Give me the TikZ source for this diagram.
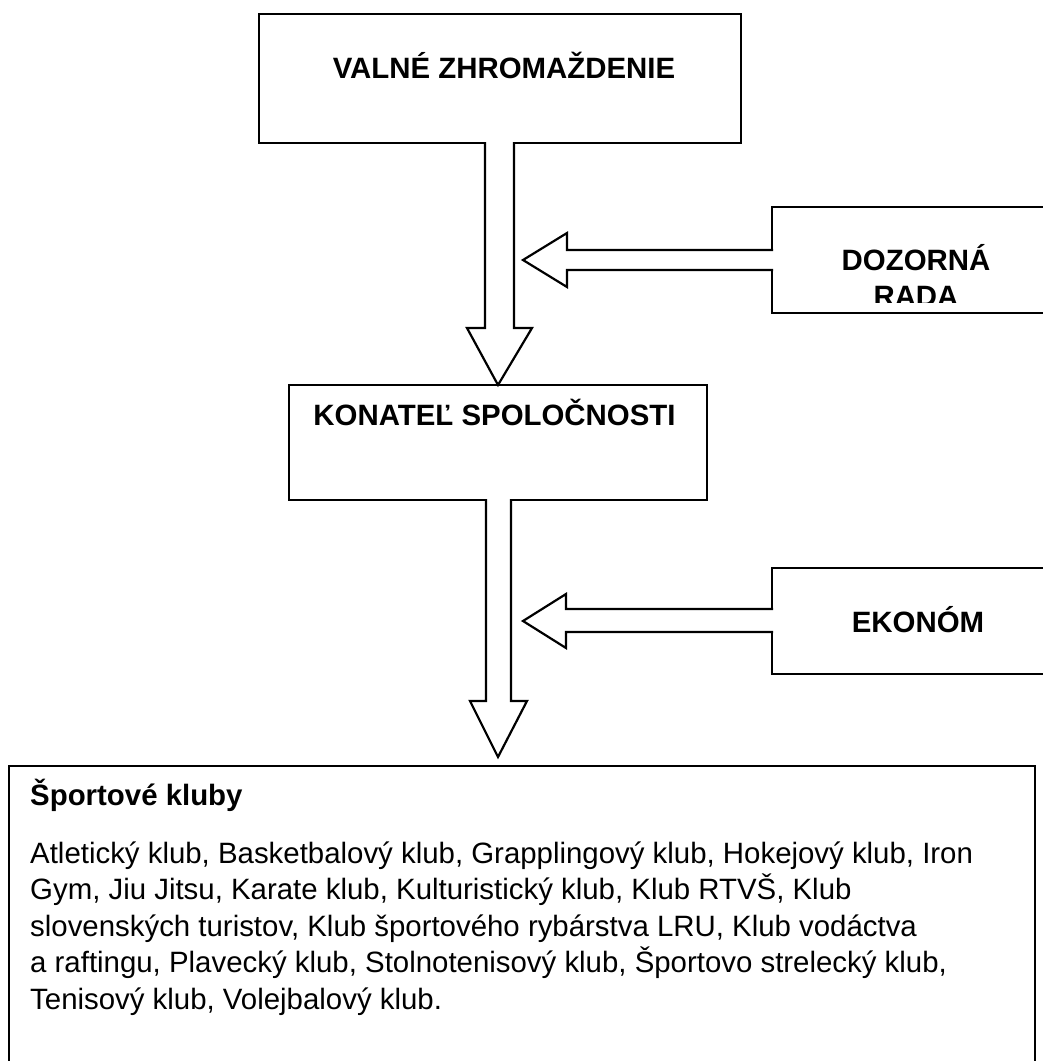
\documentclass[tikz,border=0pt]{standalone}
\usepackage{fontspec}
\setmainfont{Liberation Sans}
\begin{document}
\begin{tikzpicture}[x=1pt,y=-1pt,
  frame/.style={draw=black, line width=2.2pt, rectangle, inner sep=0pt, outer sep=0pt},
  lbl/.style={font=\fontsize{29.4}{36}\bfseries\selectfont, inner sep=0pt, anchor=base},
  head/.style={font=\fontsize{29.4}{36}\bfseries\selectfont, inner sep=0pt, anchor=base west},
  body/.style={font=\fontsize{29.4}{36}\selectfont, inner sep=0pt, anchor=base west},
  hollow/.style={draw=black, fill=white, line width=2.2pt, line join=miter}]
\useasboundingbox (0,0) rectangle (1043,1061);
\fill[white] (0,0) rectangle (1043,1061);

% boxes
\node[frame, minimum width=482pt, minimum height=129pt] (vz) at (500,78.5) {};
\node[frame, minimum width=418pt, minimum height=115pt] (kon) at (498,442.5) {};
\node[frame, minimum width=328pt, minimum height=106pt] (dr) at (936,260) {};
\node[frame, minimum width=328pt, minimum height=106pt] (ek) at (936,621) {};
\node[frame, minimum width=1026pt, minimum height=334pt] (kl) at (522,933) {};

% labels
\node[lbl] (vzt) at (504,78) {VALNÉ ZHROMAŽDENIE};
\node[lbl] (kont) at (494.5,425) {KONATEĽ SPOLOČNOSTI};
\node[lbl] (drt) at (916,270) {DOZORNÁ};
\begin{scope}
  \clip (774,209) rectangle (1043,302);
  \node[lbl] (drt2) at (916,306) {RADA};
\end{scope}
\node[lbl] (ekt) at (918,632) {EKONÓM};

\node[head] (klt) at (30,805) {Športové kluby};
\node[body] (b1) at (30,863) {Atletický klub, Basketbalový klub, Grapplingový klub, Hokejový klub, Iron};
\node[body] (b2) at (30,899.5) {Gym, Jiu Jitsu, Karate klub, Kulturistický klub, Klub RTVŠ, Klub};
\node[body] (b3) at (30,936) {slovenských turistov, Klub športového rybárstva LRU, Klub vodáctva};
\node[body] (b4) at (30,972.5) {a raftingu, Plavecký klub, Stolnotenisový klub, Športovo strelecký klub,};
\node[body] (b5) at (30,1009) {Tenisový klub, Volejbalový klub.};

% block arrows
\coordinate (t1) at (kon.north);
\draw[hollow] (485,142) -- (485,328) -- (467,328) -- (t1) -- (532,328) -- (514,328) -- (514,142);
\coordinate (t2) at (498,757);
\draw[hollow] (486,499) -- (486,701) -- (470,701) -- (t2) -- (527,701) -- (511,701) -- (511,499);
\coordinate (t3) at (523,260);
\draw[hollow] (773,250) -- (567,250) -- (567,233) -- (t3) -- (567,287) -- (567,270) -- (773,270);
\coordinate (t4) at (523,621);
\draw[hollow] (773,609) -- (566,609) -- (566,594) -- (t4) -- (566,648) -- (566,632) -- (773,632);
\end{tikzpicture}
\end{document}
